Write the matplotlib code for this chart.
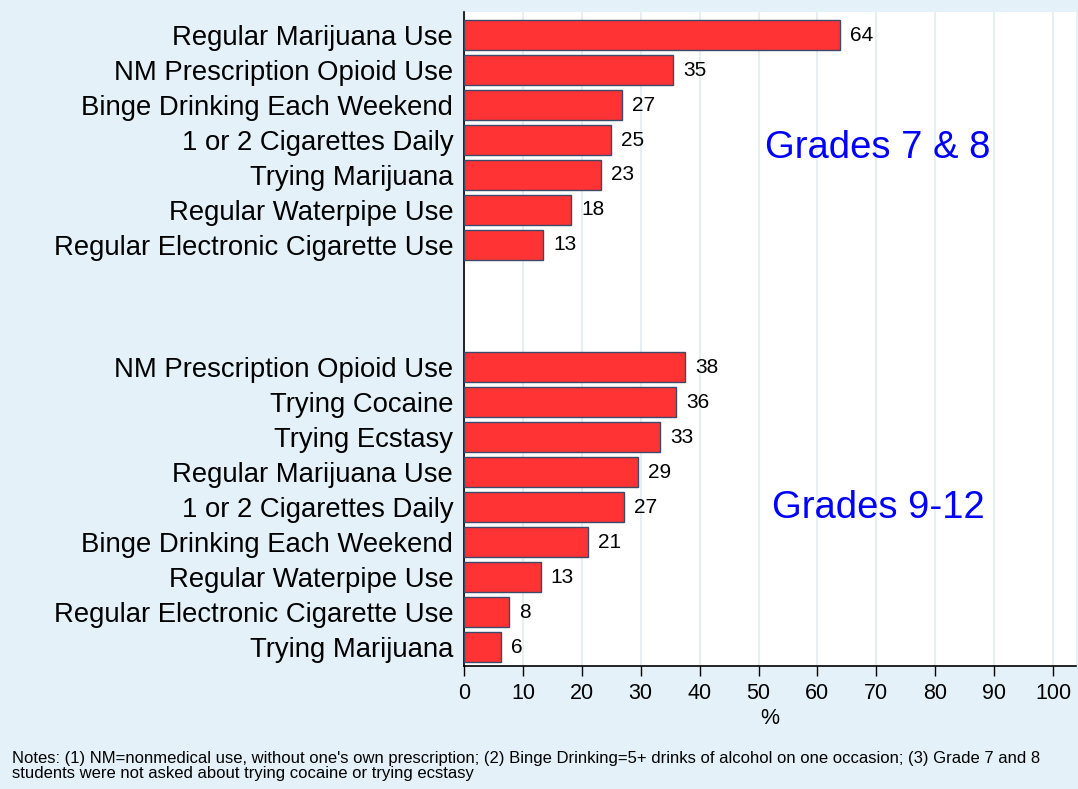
import matplotlib
matplotlib.use("Agg")
import matplotlib.pyplot as plt

plt.rcParams['font.family'] = ['Liberation Sans', 'DejaVu Sans']

group1_labels = ["Regular Marijuana Use", "NM Prescription Opioid Use", "Binge Drinking Each Weekend",
                 "1 or 2 Cigarettes Daily", "Trying Marijuana", "Regular Waterpipe Use",
                 "Regular Electronic Cigarette Use"]
group1_values = [63.8, 35.5, 26.8, 25, 23.2, 18.2, 13.4]
group1_text = ["64", "35", "27", "25", "23", "18", "13"]
group1_title = "Grades 7 & 8"

group2_labels = ["NM Prescription Opioid Use", "Trying Cocaine", "Trying Ecstasy", "Regular Marijuana Use",
                 "1 or 2 Cigarettes Daily", "Binge Drinking Each Weekend", "Regular Waterpipe Use",
                 "Regular Electronic Cigarette Use", "Trying Marijuana"]
group2_values = [37.5, 36, 33.3, 29.5, 27.2, 21, 13, 7.7, 6.3]
group2_text = ["38", "36", "33", "29", "27", "21", "13", "8", "6"]
group2_title = "Grades 9-12"

x_ticks = [0, 10, 20, 30, 40, 50, 60, 70, 80, 90, 100]
x_label = "%"
notes = ("Notes: (1) NM=nonmedical use, without one's own prescription; (2) Binge Drinking=5+ drinks of alcohol on one occasion; (3) Grade 7 and 8\n"
         "students were not asked about trying cocaine or trying ecstasy")

bg = "#e5f1f8"
fig = plt.figure(figsize=(10.78, 7.89), dpi=100, facecolor=bg)
ax = fig.add_axes([464/1078, 1 - 666/789, (1076-464)/1078, (666-12)/789])
ax.set_facecolor("white")

pos1 = list(range(len(group1_values)))
pos2 = [9.5 + i for i in range(len(group2_values))]

barkw = dict(height=0.86, color="#ff3333", edgecolor="#3b4a6b", linewidth=1.0, zorder=3)
ax.barh(pos1, group1_values, **barkw)
ax.barh(pos2, group2_values, **barkw)

for p, v, t in zip(pos1, group1_values, group1_text):
    ax.text(v + 1.7, p, t, va="center", ha="left", fontsize=15)
for p, v, t in zip(pos2, group2_values, group2_text):
    ax.text(v + 1.7, p, t, va="center", ha="left", fontsize=15)

ax.set_yticks(pos1 + pos2)
ax.set_yticklabels(group1_labels + group2_labels, fontsize=19.8)
ax.tick_params(axis="y", length=0, pad=7.8)
ax.set_ylim(18.04, -0.66)

xmax = (1076 - 464) / 5.89
ax.set_xlim(0, xmax)
ax.set_xticks(x_ticks)
ax.set_xticklabels([str(t) for t in x_ticks], fontsize=15.5)
ax.tick_params(axis="x", length=7, width=1, pad=5.5)
ax.set_xlabel(x_label, fontsize=15.5, labelpad=2.5)

ax.grid(axis="x", color="#e6eef2", linewidth=1.5, zorder=0)
ax.set_axisbelow(True)
for s in ["top", "right"]:
    ax.spines[s].set_visible(False)
ax.spines["left"].set_linewidth(1.2)
ax.spines["bottom"].set_linewidth(1.2)

ax.text(70.2, 3.23, group1_title, color="#0000ff", fontsize=27.5, ha="center", va="center")
ax.text(70.4, 13.53, group2_title, color="#0000ff", fontsize=27.5, ha="center", va="center")

fig.text(12/1078, 1 - 751/789, notes, fontsize=12, ha="left", va="top", linespacing=0.98)

fig.savefig("out.png", dpi=100, facecolor=bg)
